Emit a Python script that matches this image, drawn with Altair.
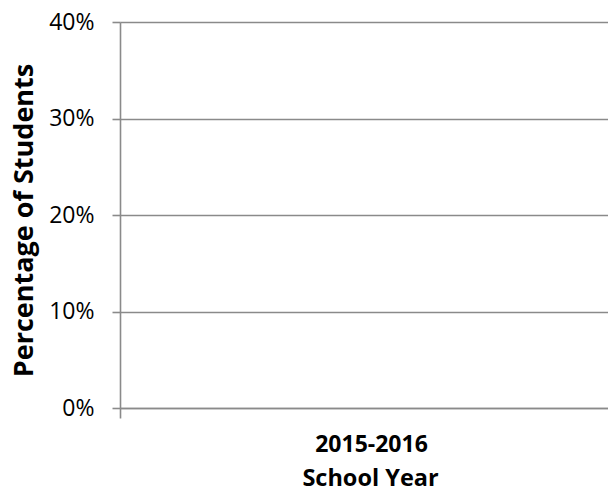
import altair as alt
import pandas as pd

years = ["2015-2016"]
values = [0.0]

df = pd.DataFrame({"year": years, "pct": values})

W, H = 488, 386
FONT = "Open Sans"
GRAY = "#8a8a8a"
LW = 1.6

chart = alt.Chart(df).mark_bar(color="#4f81bd").encode(
    x=alt.X("year:N", title="School Year",
            scale=alt.Scale(range=[0, W + 16]),
            axis=alt.Axis(labelAngle=0, labelFont=FONT, labelFontSize=23, labelFontWeight="bold",
                          labelColor="black", labelBaseline="middle", labelPadding=26, labelOffset=-1,
                          tickBand="extent", tickSize=10, tickColor=GRAY, tickWidth=LW,
                          domainColor=GRAY, domainWidth=LW,
                          titleFont=FONT, titleFontSize=23.5, titleFontWeight="bold", titleColor="black",
                          titleBaseline="middle", titleY=70, titleX=W / 2 + 6, titlePadding=0)),
    y=alt.Y("pct:Q", title="Percentage of Students",
            scale=alt.Scale(domain=[0, 0.4]),
            axis=alt.Axis(values=[0, 0.1, 0.2, 0.3, 0.4], format=".0%",
                          labelFont=FONT, labelFontSize=23, labelColor="black",
                          labelPadding=18, tickSize=8, tickColor=GRAY, tickWidth=LW,
                          domainColor=GRAY, domainWidth=LW,
                          gridColor=GRAY, gridWidth=LW,
                          titleFont=FONT, titleFontSize=27, titleFontWeight="bold", titleColor="black",
                          titleBaseline="middle", titleX=-96, titleY=H / 2 + 5, titleAngle=-90)),
).properties(
    width=W, height=H,
    autosize=alt.AutoSizeParams(type="none"),
    padding={"left": 112, "top": 14, "right": 0, "bottom": 82},
).configure_view(stroke=None).configure_scale(bandPaddingInner=0, bandPaddingOuter=0)

chart.save("out.html", embed_options={"renderer": "svg", "actions": False})
